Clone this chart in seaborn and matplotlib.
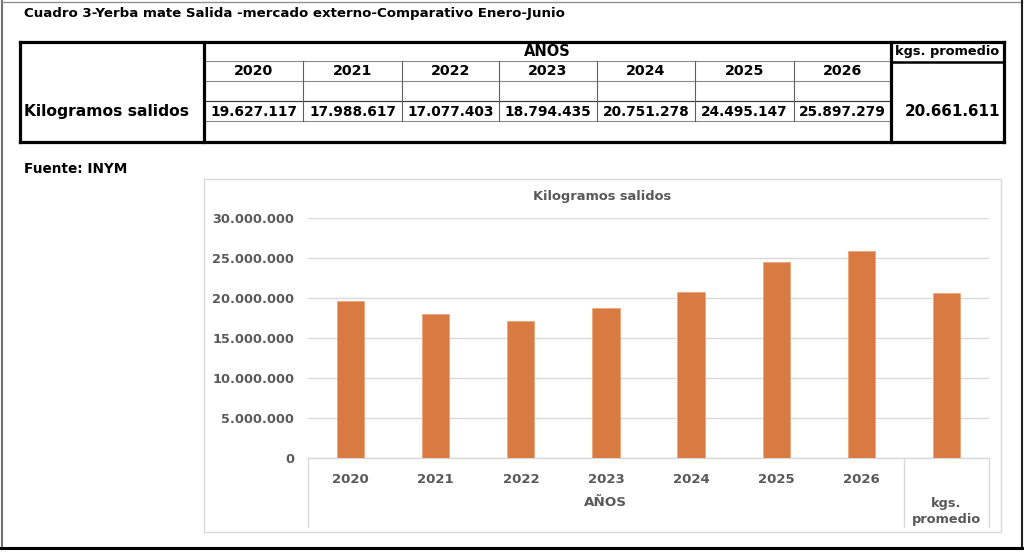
import matplotlib
matplotlib.use("Agg")
import matplotlib.pyplot as plt
import matplotlib.transforms as mtransforms
from matplotlib.ticker import FuncFormatter, FixedLocator
import seaborn as sns
import pandas as pd

# ---------------- data ----------------
years = ["2020", "2021", "2022", "2023", "2024", "2025", "2026"]
kilos = [19627117, 17988617, 17077403, 18794435, 20751278, 24495147, 25897279]
avg_label = "kgs. promedio"
avg_value = 20661611
title = "Cuadro 3-Yerba mate Salida -mercado externo-Comparativo Enero-Junio"
row_label = "Kilogramos salidos"
group_label = "AÑOS"
source = "Fuente: INYM"
chart_title = "Kilogramos salidos"
y_ticks = [0, 5000000, 10000000, 15000000, 20000000, 25000000, 30000000]

def fmt(v):
    return f"{int(round(v)):,}".replace(",", ".")

sns.set_theme(style="white")
plt.rcParams["font.family"] = ["DejaVu Sans"]
plt.rcParams["font.weight"] = "bold"
plt.rcParams["text.color"] = "black"

W, H = 1024, 553
fig = plt.figure(figsize=(W / 100, H / 100), dpi=100)
fig.patch.set_facecolor("white")

# background axes in pixel coordinates
bg = fig.add_axes([0, 0, 1, 1])
bg.set_xlim(0, W)
bg.set_ylim(H, 0)
bg.axis("off")

def line(x0, y0, x1, y1, lw=1.0, color="black"):
    bg.plot([x0, x1], [y0, y1], color=color, lw=lw, solid_capstyle="projecting")

# outer frame
line(1.5, 1, 1.5, 548, lw=1.5, color="#707070")
line(1, 1.5, 1022, 1.5, lw=1.0, color="#909090")
line(1022, 1, 1022, 548, lw=1.5, color="#202020")
line(1, 548, 1022, 548, lw=2.2, color="black")

# title
bg.text(24, 14, title, fontsize=9.6, fontweight="bold", ha="left", va="center", color="black")

# ---------------- table ----------------
thick = 2.3
col_edges = [204, 303, 402, 499, 597, 695, 794, 891]
for yy in [61, 81, 121]:
    line(204, yy, 891, yy, lw=0.8, color="#8a8a8a")
line(204, 101, 891, 101, lw=0.9, color="#404040")
for xx in col_edges[1:-1]:
    line(xx, 61, xx, 121, lw=0.8, color="#606060")
line(20, 42, 1004, 42, lw=thick)
line(20, 142, 1004, 142, lw=thick)
line(20, 42, 20, 142, lw=thick)
line(1004, 42, 1004, 142, lw=thick)
line(204, 42, 204, 142, lw=thick)
line(891, 42, 891, 142, lw=thick)
line(891, 62, 1004, 62, lw=1.8)

bg.text(547, 51.5, group_label, fontsize=10.5, fontweight="bold", ha="center", va="center")
bg.text(947, 52, avg_label, fontsize=9.3, fontweight="bold", ha="center", va="center")
for i, (yr, v) in enumerate(zip(years, kilos)):
    cx = (col_edges[i] + col_edges[i + 1]) / 2
    bg.text(cx, 71, yr, fontsize=10.3, fontweight="bold", ha="center", va="center")
    bg.text(cx, 111.5, fmt(v), fontsize=9.9, fontweight="bold", ha="center", va="center")
bg.text(24, 111.5, row_label, fontsize=11.2, fontweight="bold", ha="left", va="center")
bg.text(1000, 111.5, fmt(avg_value), fontsize=10.9, fontweight="bold", ha="right", va="center")

bg.text(24, 169, source, fontsize=9.8, fontweight="bold", ha="left", va="center")

# chart box
bg.add_patch(plt.Rectangle((204, 179), 797, 353, fill=False, edgecolor="#D9D9D9", lw=1.0))
bg.text(602, 196.5, chart_title, fontsize=9.4, fontweight="bold", ha="center", va="center", color="#595959")

# ---------------- bar chart ----------------
ax_l, ax_r, ax_t, ax_b = 308, 989, 218, 458
ax = fig.add_axes([ax_l / W, (H - ax_b) / H, (ax_r - ax_l) / W, (ax_b - ax_t) / H])
ax.set_facecolor("none")

df = pd.DataFrame({"cat": years + [avg_label], "val": kilos + [avg_value]})
sns.barplot(data=df, x="cat", y="val", color="#D97A42", saturation=1, width=0.32,
            edgecolor="#EFA57A", linewidth=0.6, ax=ax, zorder=3)

ax.set_ylim(0, 30000000)
ax.yaxis.set_major_locator(FixedLocator(y_ticks))
ax.yaxis.set_major_formatter(FuncFormatter(lambda v, p: fmt(v)))
ax.grid(axis="y", color="#D9D9D9", lw=1.0, zorder=0)
ax.grid(axis="x", visible=False)
for s in ["top", "right", "left"]:
    ax.spines[s].set_visible(False)
ax.spines["bottom"].set_color("#D9D9D9")
ax.spines["bottom"].set_linewidth(1.0)
ax.set_xlabel("")
ax.set_ylabel("")
ax.tick_params(axis="y", length=0, pad=10, labelsize=9.3, labelcolor="#595959")
ax.tick_params(axis="x", length=0, pad=10.5, labelsize=9.5, labelcolor="#595959")
ax.set_xticks(range(len(df)))
ax.set_xticklabels(years + [""])
for lab in ax.get_xticklabels() + ax.get_yticklabels():
    lab.set_fontweight("bold")

# multi-level category axis lines and labels
tr = mtransforms.blended_transform_factory(ax.transData, ax.transAxes)
drop = -(527 - 458) / (ax_b - ax_t)
for xv in [-0.5, len(years) - 0.5, len(years) + 0.5]:
    ax.plot([xv, xv], [0, drop], transform=tr, color="#D9D9D9", lw=1.0, clip_on=False)
ax.text((len(years) - 1) / 2, -(502 - 458) / (ax_b - ax_t), group_label, transform=tr,
        ha="center", va="center", fontsize=9.7, fontweight="bold", color="#595959")
ax.text(len(years), -(511.5 - 458) / (ax_b - ax_t), "kgs.\npromedio", transform=tr,
        ha="center", va="center", fontsize=9.3, fontweight="bold", color="#595959",
        linespacing=1.35)
ax.set_xlim(-0.5, len(df) - 0.5)

fig.savefig("out.png", dpi=100, facecolor="white")
